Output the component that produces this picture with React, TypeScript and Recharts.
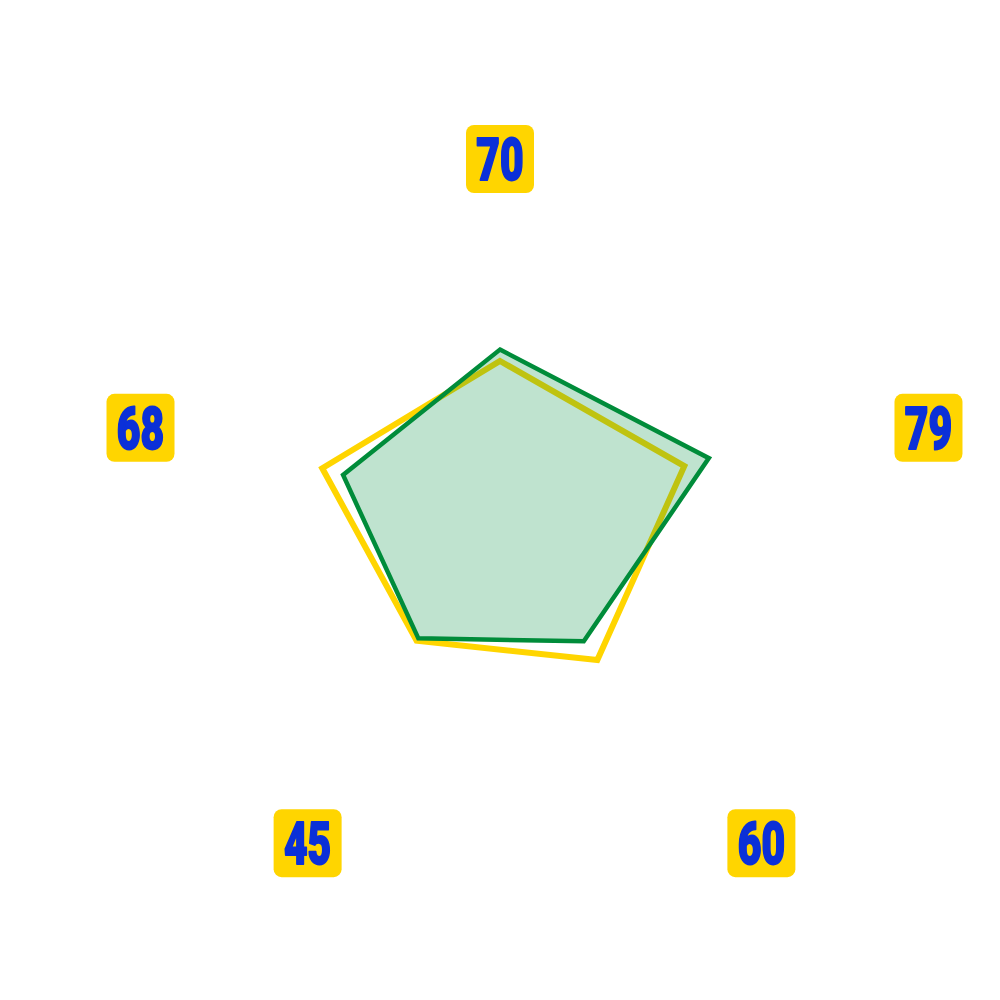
import React from 'react';
import { RadarChart, Radar, PolarAngleAxis, PolarRadiusAxis } from 'recharts';

const categories = ['70', '79', '60', '45', '68'];
const yellowValues = [55, 64.6, 55.2, 47.3, 62.3];
const greenValues = [58.8, 73.2, 47.5, 46.3, 55];

const data = categories.map((name, i) => ({
  name,
  yellow: yellowValues[i],
  green: greenValues[i],
}));

const CX = 500;
const CY = 526;
const YELLOW = '#FFD500';
const GREEN = '#008C3A';
const BLUE = '#0B30D8';

const LabelTick = (props: any) => {
  const { x, y, textAnchor, payload } = props;
  let dx = 0;
  let dy = 0;
  if (textAnchor === 'start') dx = -9;
  else if (textAnchor === 'end') dx = 78;
  if (textAnchor === 'middle' && y < CY) dy = 93;
  else if (y < CY) dy = 44;
  else dy = -55;
  const bx = x + dx;
  const by = y + dy;
  const size = 68;
  return (
    <g>
      <rect x={bx - size / 2} y={by - size / 2} width={size} height={size} rx={8} ry={8} fill={YELLOW} />
      <text
        transform={`translate(${bx},${by + 21}) scale(0.68,1)`}
        x={0}
        y={0}
        textAnchor="middle"
        fill={BLUE}
        stroke={BLUE}
        strokeWidth={2}
        strokeLinejoin="round"
        fontFamily="Roboto, 'DejaVu Sans', sans-serif"
        fontWeight={900}
        fontSize={60}
      >
        {payload.value}
      </text>
    </g>
  );
};

export default function App() {
  return (
    <div style={{ position: 'absolute', left: 0, top: 0, width: 1000, height: 1000, background: '#fff' }}>
      <RadarChart
        width={1000}
        height={1000}
        data={data}
        cx={CX}
        cy={CY}
        outerRadius={300}
        startAngle={90}
        endAngle={-270}
        margin={{ top: 0, right: 0, bottom: 0, left: 0 }}
      >
        <PolarAngleAxis
          dataKey="name"
          tick={<LabelTick />}
          tickSize={160}
          tickLine={false}
          axisLine={false}
        />
        <PolarRadiusAxis domain={[0, 100]} tick={false} axisLine={false} />
        <Radar
          dataKey="yellow"
          stroke={YELLOW}
          strokeWidth={6}
          fill={YELLOW}
          fillOpacity={0}
          isAnimationActive={false}
        />
        <Radar
          dataKey="green"
          stroke={GREEN}
          strokeWidth={4.5}
          fill="#009040"
          fillOpacity={0.25}
          isAnimationActive={false}
        />
      </RadarChart>
    </div>
  );
}
